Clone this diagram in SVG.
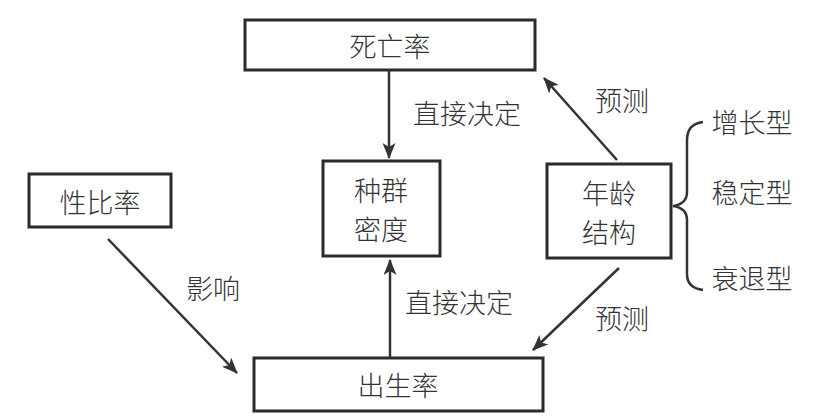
<svg xmlns="http://www.w3.org/2000/svg" width="816" height="420" viewBox="0 0 816 420">
<style>
.box{fill:#fff;stroke:#2b2b2b;stroke-width:3}
.t{font-family:"Noto Sans CJK SC","Noto Sans",sans-serif;font-size:27px;font-weight:300;fill:#333;text-anchor:middle;dominant-baseline:central}
.c{stroke:#333;stroke-width:2.5;fill:none}
</style>
<defs>
<marker id="ah" viewBox="0 0 16 13" refX="15" refY="6.5" markerWidth="16" markerHeight="13" markerUnits="userSpaceOnUse" orient="auto">
<path d="M0,0 L16,6.5 L0,13 L4,6.5 z" fill="#333"/>
</marker>
</defs>
<rect width="816" height="420" fill="#fff"/>
<g id="death"><rect class="box" x="245" y="20" width="290" height="50"/><text class="t" x="390" y="45">死亡率</text></g>
<g id="density"><rect class="box" x="323" y="161" width="117" height="95"/><text class="t" x="381" y="189">种群</text><text class="t" x="381" y="228">密度</text></g>
<g id="age"><rect class="box" x="547" y="164" width="124" height="94"/><text class="t" x="609" y="192">年龄</text><text class="t" x="609" y="231">结构</text></g>
<g id="sex"><rect class="box" x="29" y="174" width="142" height="53"/><text class="t" x="100" y="201">性比率</text></g>
<g id="birth"><rect class="box" x="254" y="358" width="289" height="53"/><text class="t" x="398" y="384">出生率</text></g>
<g id="types">
<text class="t" x="752" y="121">增长型</text>
<text class="t" x="752" y="191">稳定型</text>
<text class="t" x="752" y="277">衰退型</text>
</g>
<g id="connectors">
<line class="c" x1="389" y1="70" x2="389" y2="158" marker-end="url(#ah)"/>
<line class="c" x1="390" y1="358" x2="390" y2="260" marker-end="url(#ah)"/>
<line class="c" x1="108" y1="239" x2="237" y2="373" marker-end="url(#ah)"/>
<line class="c" x1="617" y1="160" x2="544" y2="78" marker-end="url(#ah)"/>
<line class="c" x1="619" y1="268" x2="533" y2="350" marker-end="url(#ah)"/>
<path class="c" d="M703,122 Q687,124 687,140 L687,192 Q687,204 673,206 Q687,208 687,220 L687,274 Q687,288 703,290"/>
<text class="t" x="467" y="112">直接决定</text>
<text class="t" x="459" y="301">直接决定</text>
<text class="t" x="213" y="287">影响</text>
<text class="t" x="622" y="99">预测</text>
<text class="t" x="622" y="317">预测</text>
</g>
</svg>
